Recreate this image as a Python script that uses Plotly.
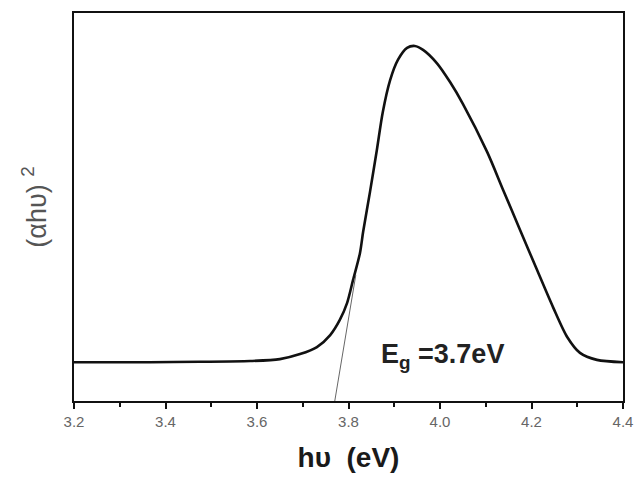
import plotly.graph_objects as go

# Photon energy (eV) and (alpha h nu)^2 in arbitrary units
energy = [3.200, 3.366, 3.475, 3.585, 3.650, 3.694, 3.731, 3.760, 3.781, 3.797,
          3.810, 3.825, 3.832, 3.847, 3.862, 3.875, 3.891, 3.908, 3.928, 3.945,
          3.963, 3.993, 4.022, 4.050, 4.103, 4.138, 4.175, 4.212, 4.247, 4.278,
          4.306, 4.343, 4.400]
absorb = [0.100, 0.100, 0.101, 0.103, 0.108, 0.121, 0.139, 0.170, 0.209, 0.253,
          0.312, 0.381, 0.436, 0.539, 0.647, 0.745, 0.827, 0.879, 0.910, 0.915,
          0.905, 0.871, 0.822, 0.766, 0.642, 0.544, 0.441, 0.338, 0.242, 0.165,
          0.124, 0.106, 0.100]

# Tangent (linear extrapolation) line
tangent_x = [3.770, 3.816]
tangent_y = [0.0, 0.325]

tick_vals = [3.2, 3.4, 3.6, 3.8, 4.0, 4.2, 4.4]
tick_text = ["3.2", "3.4", "3.6", "3.8", "4.0", "4.2", "4.4"]

fig = go.Figure()
fig.add_trace(go.Scatter(x=energy, y=absorb, mode="lines",
                         line=dict(color="#111111", width=2.6, shape="spline", smoothing=0.8),
                         showlegend=False, hoverinfo="skip"))
fig.add_trace(go.Scatter(x=tangent_x, y=tangent_y, mode="lines",
                         line=dict(color="#555555", width=0.9),
                         showlegend=False, hoverinfo="skip"))

fig.add_annotation(x=3.866, y=0.115, xref="x", yref="y",
                   text="<b>E<sub>g</sub> =3.7eV</b>", showarrow=False,
                   xanchor="left", yanchor="middle",
                   font=dict(family="Liberation Sans, Arial", size=27, color="#222222"))

fig.update_layout(
    width=636, height=481,
    margin=dict(l=74, r=13, t=13, b=80),
    paper_bgcolor="white", plot_bgcolor="white",
    font=dict(family="Liberation Sans, Arial"),
    xaxis=dict(range=[3.2, 4.4], tickvals=tick_vals, ticktext=tick_text,
               automargin=False,
               ticks="outside", ticklen=6, tickwidth=2, tickcolor="#111111",
               minor=dict(dtick=0.1, tick0=3.2, ticks="outside", ticklen=4, tickwidth=2, tickcolor="#111111"),
               showline=True, linecolor="#111111", linewidth=2, mirror=True,
               showgrid=False, zeroline=False,
               tickfont=dict(size=15, color="#666666"),
               title=dict(text="<b>hυ  (eV)</b>", font=dict(size=28, color="#1a1a1a"), standoff=18)),
    yaxis=dict(range=[0, 1], showticklabels=False, ticks="", automargin=False,
               showline=True, linecolor="#111111", linewidth=2, mirror=True,
               showgrid=False, zeroline=False,
               title=dict(text="(αhυ) <sup>2</sup>", font=dict(size=27, color="#555555"), standoff=18)),
)

fig.write_html("out.html")
